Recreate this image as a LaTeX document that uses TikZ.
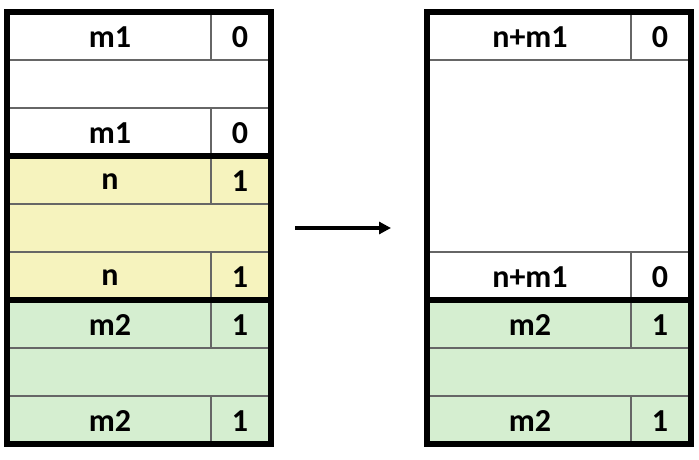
\documentclass[tikz,border=0pt]{standalone}
\usepackage{fontspec}
\setmainfont{Carlito}
\usetikzlibrary{arrows.meta}
\definecolor{cellyellow}{HTML}{F6F3BE}
\definecolor{cellgreen}{HTML}{D5EED0}
\definecolor{thinline}{HTML}{666666}
\tikzset{
  lbl/.style={font=\fontsize{32}{36}\selectfont\bfseries, inner sep=0pt, anchor=center},
  thin/.style={draw=thinline, line width=1.2pt},
  thick/.style={draw=black, line width=6pt},
  arr/.style={line width=4.5pt, -{Triangle[length=12pt,width=12pt]}},
}
\begin{document}
\begin{tikzpicture}[x=1pt,y=-1pt]
\useasboundingbox (0,0) rectangle (699,460);
% ---------- left block ----------
\fill[white] (7,12) rectangle (271,156);
\fill[cellyellow] (7,156) rectangle (271,300);
\fill[cellgreen] (7,300) rectangle (271,444);
\foreach \y in {60,108,204,252,348,396} \draw[thin] (7,\y) -- (271,\y);
\foreach \a/\b in {12/60,108/156,156/204,252/300,300/348,396/444} \draw[thin] (211,\a) -- (211,\b);
\draw[thick] (7,156) -- (271,156);
\draw[thick] (7,300) -- (271,300);
\draw[thick] (7,12) rectangle (271,444);
\node[lbl] (l1a) at (110,37) {m1};   \node[lbl] (l1b) at (240,37) {0};
\node[lbl] (l3a) at (110,133) {m1};  \node[lbl] (l3b) at (240,133) {0};
\node[lbl] (l4a) at (110,182) {n};   \node[lbl] (l4b) at (240,181) {1};
\node[lbl] (l6a) at (110,278) {n};   \node[lbl] (l6b) at (240,277) {1};
\node[lbl] (l7a) at (110,325) {m2};  \node[lbl] (l7b) at (240,325) {1};
\node[lbl] (l9a) at (110,421) {m2};  \node[lbl] (l9b) at (240,421) {1};
% ---------- arrow ----------
\coordinate (as) at (295,228);
\coordinate (ae) at (391,228);
\draw[arr] (as) -- (ae);
% ---------- right block ----------
\fill[white] (427,12) rectangle (691,300);
\fill[cellgreen] (427,300) rectangle (691,444);
\foreach \y in {60,252,348,396} \draw[thin] (427,\y) -- (691,\y);
\foreach \a/\b in {12/60,252/300,300/348,396/444} \draw[thin] (631,\a) -- (631,\b);
\draw[thick] (427,300) -- (691,300);
\draw[thick] (427,12) rectangle (691,444);
\node[lbl] (r1a) at (530,37) {n+m1};  \node[lbl] (r1b) at (660,37) {0};
\node[lbl] (r6a) at (530,277) {n+m1}; \node[lbl] (r6b) at (660,277) {0};
\node[lbl] (r7a) at (530,325) {m2};   \node[lbl] (r7b) at (660,325) {1};
\node[lbl] (r9a) at (530,421) {m2};   \node[lbl] (r9b) at (660,421) {1};
\end{tikzpicture}
\end{document}
